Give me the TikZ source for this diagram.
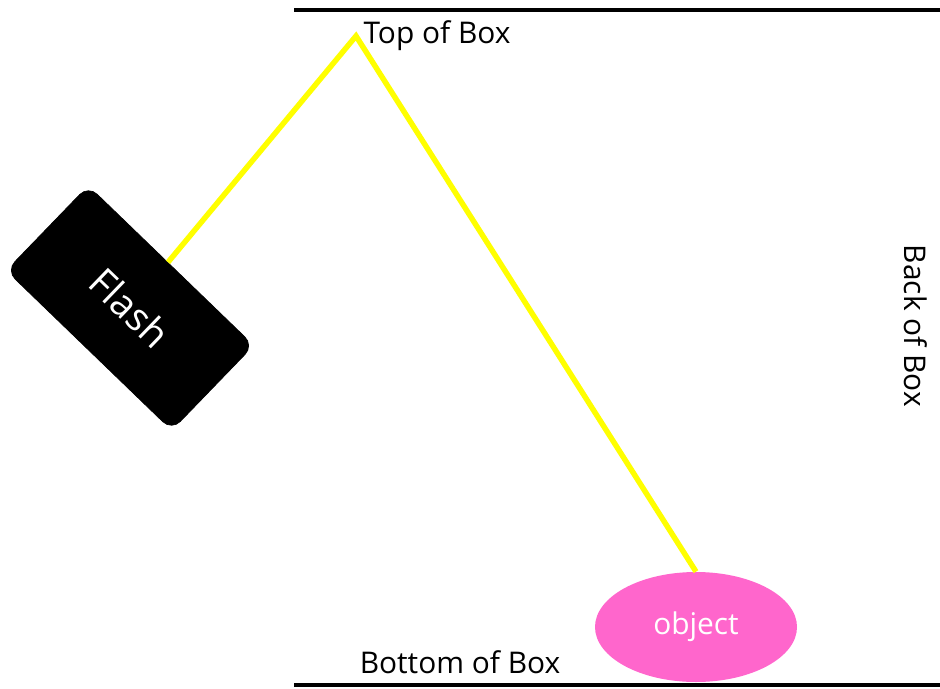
\documentclass[tikz,border=0pt]{standalone}
\usepackage{fontspec}
\setmainfont{Open Sans}
\usepackage{xcolor}
\usetikzlibrary{shapes.geometric, positioning}
\definecolor{flashyellow}{RGB}{255, 255, 0}
\definecolor{objectpink}{RGB}{255, 102, 204}

\begin{document}
\begin{tikzpicture}[
    wall/.style={draw=black, line width=2.4pt},
    label/.style={font=\fontsize{17}{20}\selectfont, text=black, inner sep=0pt},
    flashbox/.style={draw=black, fill=black, rounded corners=7pt, minimum width=4.6cm, minimum height=2.36cm, rotate=-44, font=\fontsize{22}{26}\selectfont, text=white},
    obj/.style={ellipse, fill=objectpink, minimum width=4.04cm, minimum height=2.2cm, inner sep=0pt, font=\fontsize{17}{20}\selectfont, text=white},
    beam/.style={draw=flashyellow, line width=3.1pt}
]
\useasboundingbox (0,0) rectangle (18.8,13.76);

% Box walls
\draw[wall] (5.88,13.56) -- (18.8,13.56);
\draw[wall] (5.88,0.06) -- (18.8,0.06);

% Labels
\node[label] (top) at (8.74,13.04) {Top of Box};
\node[label] (bottom) at (9.2,0.52) {Bottom of Box};
\node[label, rotate=-90] (back) at (18.32,7.24) {Back of Box};

% Flash and object
\node[flashbox] (flash) at (2.6,7.6) {Flash};
\node[obj] (object) at (13.92,1.22) {object};

% Light path
\coordinate (bounce) at (7.12,13.04);
\draw[beam] (flash) -- (bounce) -- (object.north);

\end{tikzpicture}
\end{document}
